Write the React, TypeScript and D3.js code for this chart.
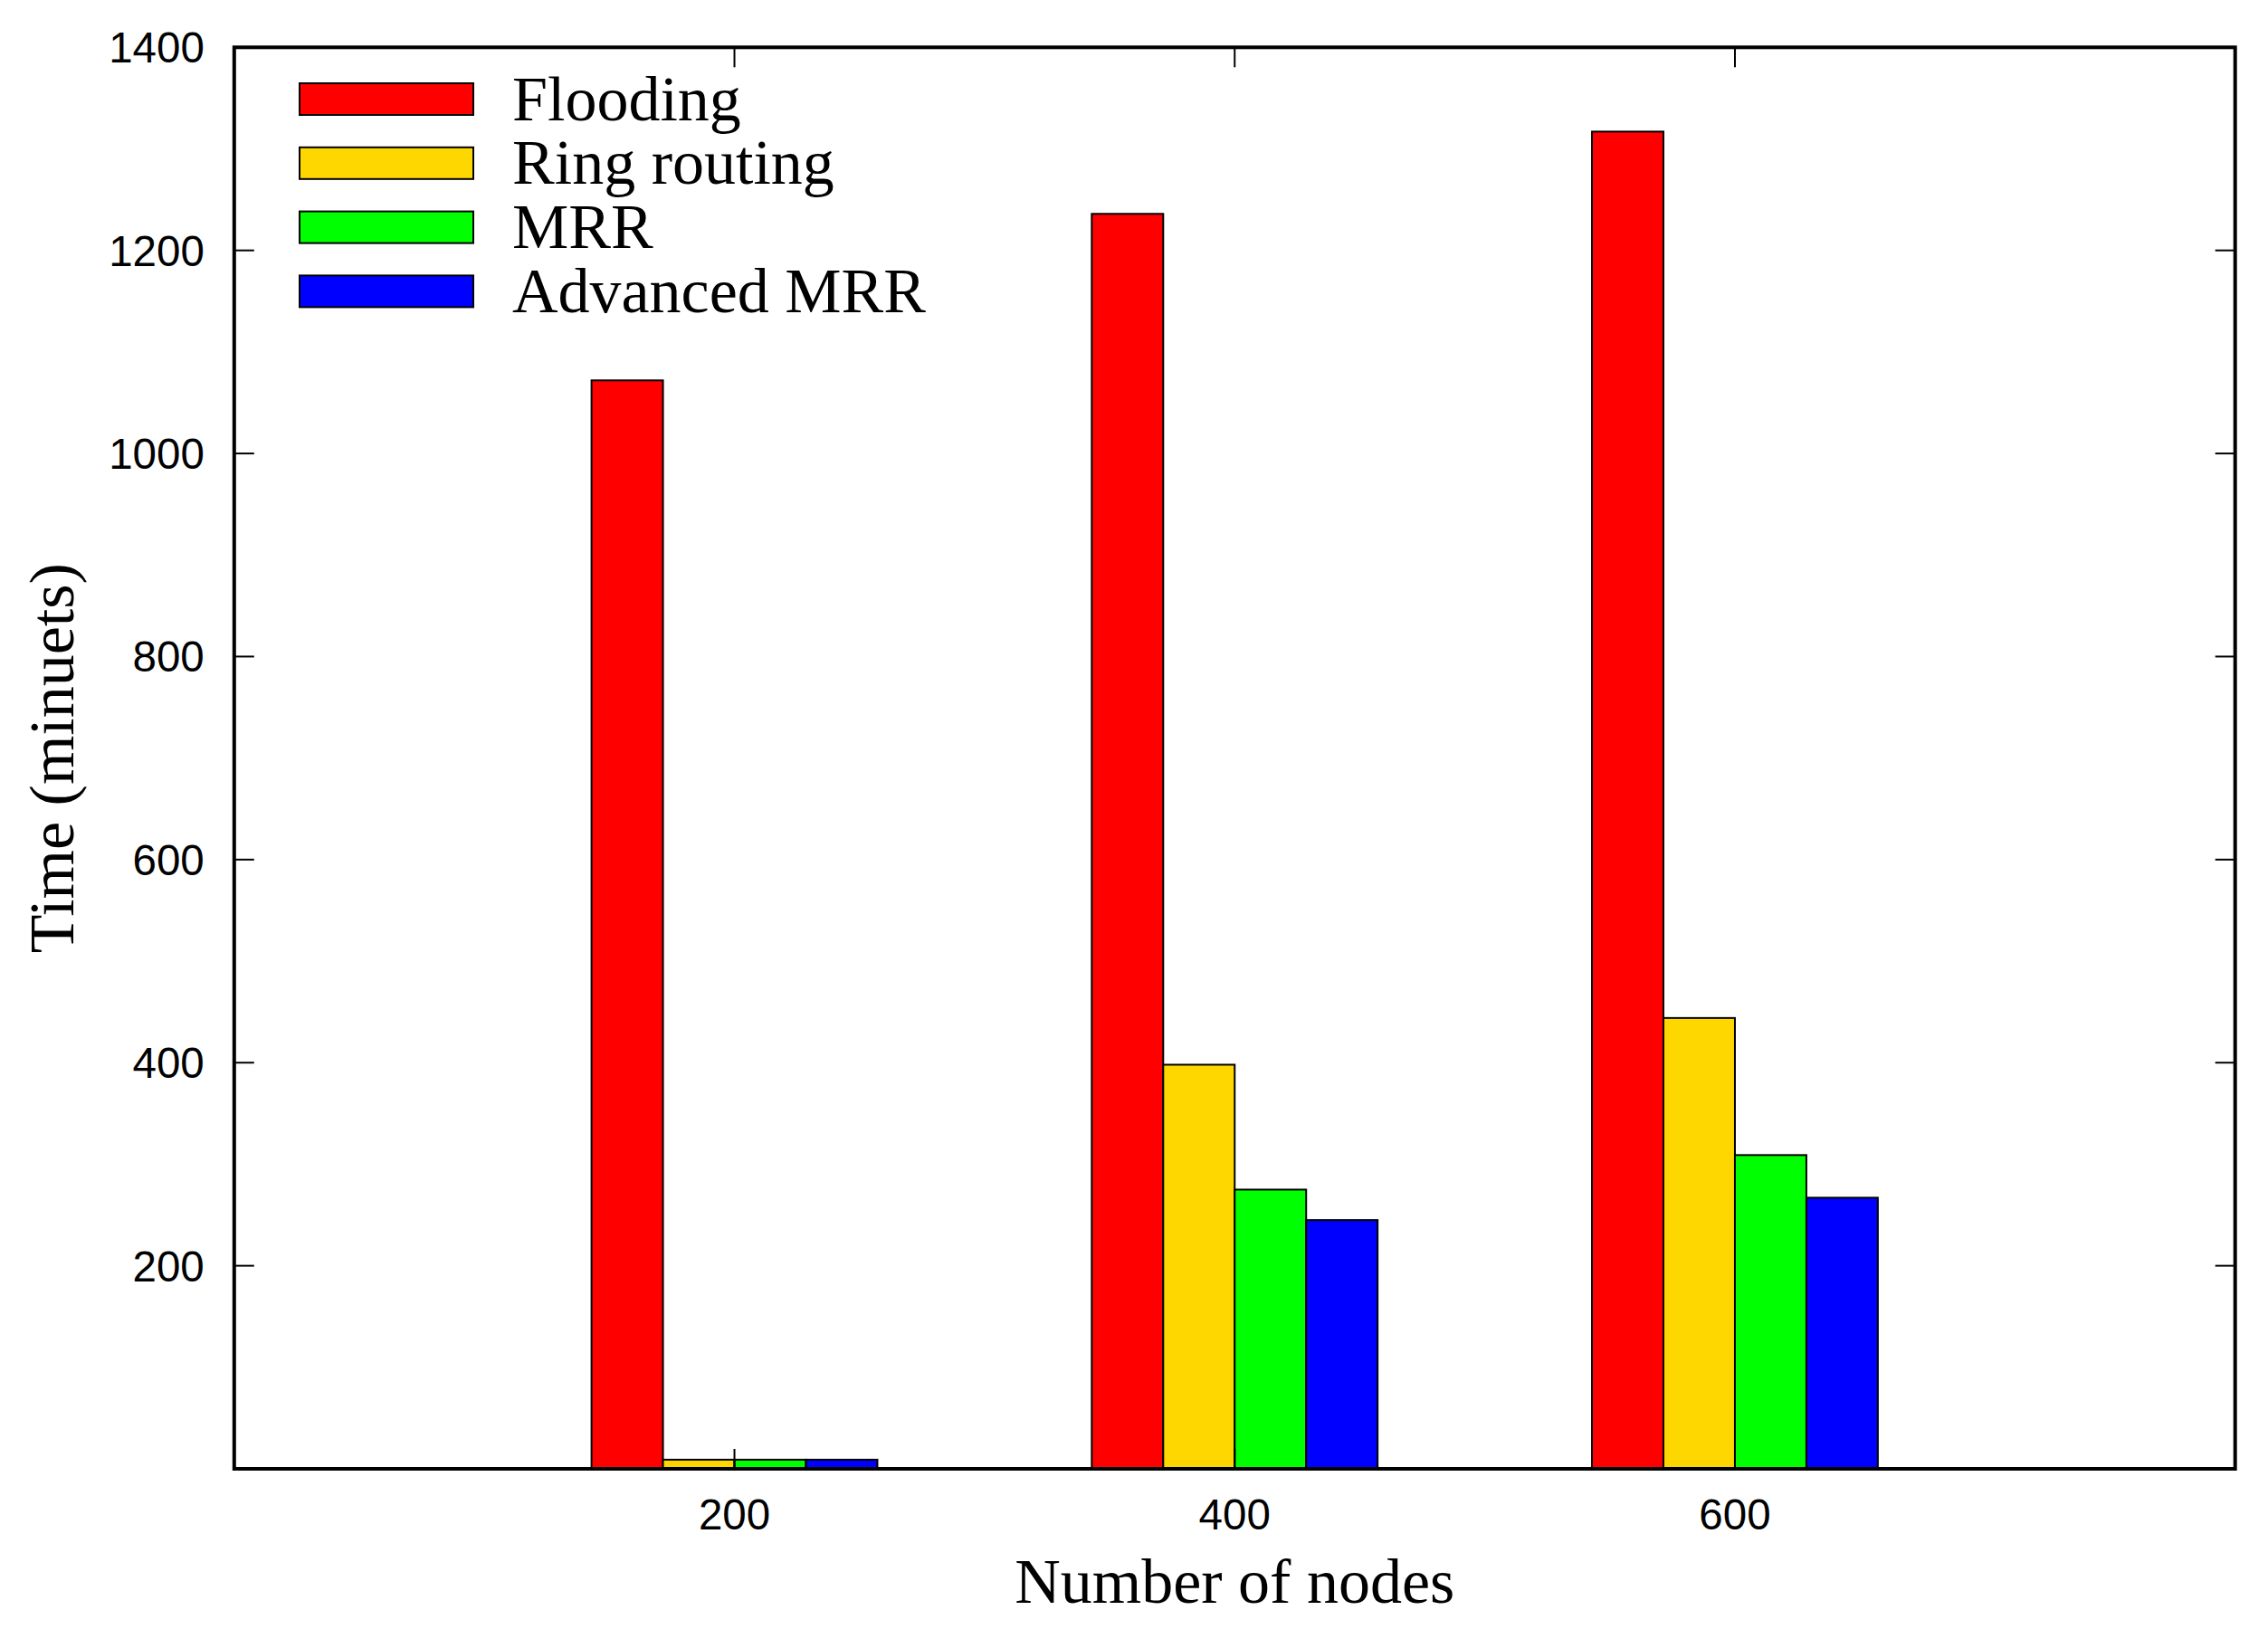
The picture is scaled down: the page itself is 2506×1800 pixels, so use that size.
import React from "react";
import * as d3 from "d3";

const categories = ["200", "400", "600"];
const seriesNames = ["Flooding", "Ring routing", "MRR", "Advanced MRR"];
const seriesColors = ["#ff0000", "#ffd700", "#00ff00", "#0000ff"];
const flooding = [1072, 1236, 1317];
const ringRouting = [9, 398, 444];
const mrr = [9, 275, 309];
const advancedMrr = [9, 245, 267];
const yTicks = [200, 400, 600, 800, 1000, 1200, 1400];

const seriesValues = [flooding, ringRouting, mrr, advancedMrr];

const W = 2506;
const H = 1800;
const left = 258.8;
const right = 2469.7;
const top = 52.3;
const bottom = 1623;

export default function App() {
  const x = d3.scaleLinear().domain([-1, 3]).range([left, right]);
  const y = d3.scaleLinear().domain([0, 1400]).range([bottom, top]);
  const nSeries = seriesNames.length;
  const bw = 1 / (nSeries + 3);
  const tickLen = 22;
  const sans = "'Liberation Sans', Arial, Helvetica, sans-serif";
  const serif = "'Liberation Serif', 'Times New Roman', Times, serif";

  return (
    <svg
      width={W}
      height={H}
      viewBox={`0 0 ${W} ${H}`}
      style={{ position: "absolute", left: 0, top: 0, background: "#fff" }}
    >
      <rect x={0} y={0} width={W} height={H} fill="#fff" />
      {/* bars */}
      {seriesValues.map((vals, si) =>
        vals.map((v, ci) => {
          const x0 = x(ci - (nSeries / 2) * bw + si * bw);
          const x1 = x(ci - (nSeries / 2) * bw + (si + 1) * bw);
          return (
            <rect
              key={`b${si}-${ci}`}
              x={x0}
              y={y(v)}
              width={x1 - x0}
              height={y(0) - y(v)}
              fill={seriesColors[si]}
              stroke="#000"
              strokeWidth={2}
            />
          );
        })
      )}
      {/* y ticks */}
      {yTicks.map((t) => (
        <g key={`yt${t}`}>
          <line x1={left} x2={left + tickLen} y1={y(t)} y2={y(t)} stroke="#000" strokeWidth={2} />
          <line x1={right} x2={right - tickLen} y1={y(t)} y2={y(t)} stroke="#000" strokeWidth={2} />
          <text
            x={left - 33}
            y={y(t) + 17}
            textAnchor="end"
            fontFamily={sans}
            fontSize={47.5}
            fill="#000"
          >
            {t}
          </text>
        </g>
      ))}
      {/* x ticks */}
      {categories.map((c, ci) => (
        <g key={`xt${c}`}>
          <line x1={x(ci)} x2={x(ci)} y1={bottom} y2={bottom - tickLen} stroke="#000" strokeWidth={2} />
          <line x1={x(ci)} x2={x(ci)} y1={top} y2={top + tickLen} stroke="#000" strokeWidth={2} />
          <text
            x={x(ci)}
            y={1690}
            textAnchor="middle"
            fontFamily={sans}
            fontSize={47.5}
            fill="#000"
          >
            {c}
          </text>
        </g>
      ))}
      {/* border */}
      <rect
        x={left}
        y={top}
        width={right - left}
        height={bottom - top}
        fill="none"
        stroke="#000"
        strokeWidth={4}
      />
      {/* legend */}
      {seriesNames.map((name, i) => {
        const cy = 109.5 + i * 70.8;
        return (
          <g key={`lg${name}`}>
            <rect
              x={331}
              y={cy - 17.5}
              width={192}
              height={35}
              fill={seriesColors[i]}
              stroke="#000"
              strokeWidth={2}
            />
            <text x={566} y={cy + 23} fontFamily={serif} fontSize={70} fill="#000">
              {name}
            </text>
          </g>
        );
      })}
      {/* axis titles */}
      <text
        x={(left + right) / 2}
        y={1771}
        textAnchor="middle"
        fontFamily={serif}
        fontSize={70}
        fill="#000"
      >
        Number of nodes
      </text>
      <text
        transform={`translate(81, ${(top + bottom) / 2}) rotate(-90)`}
        textAnchor="middle"
        fontFamily={serif}
        fontSize={70}
        fill="#000"
      >
        Time (minuets)
      </text>
    </svg>
  );
}
